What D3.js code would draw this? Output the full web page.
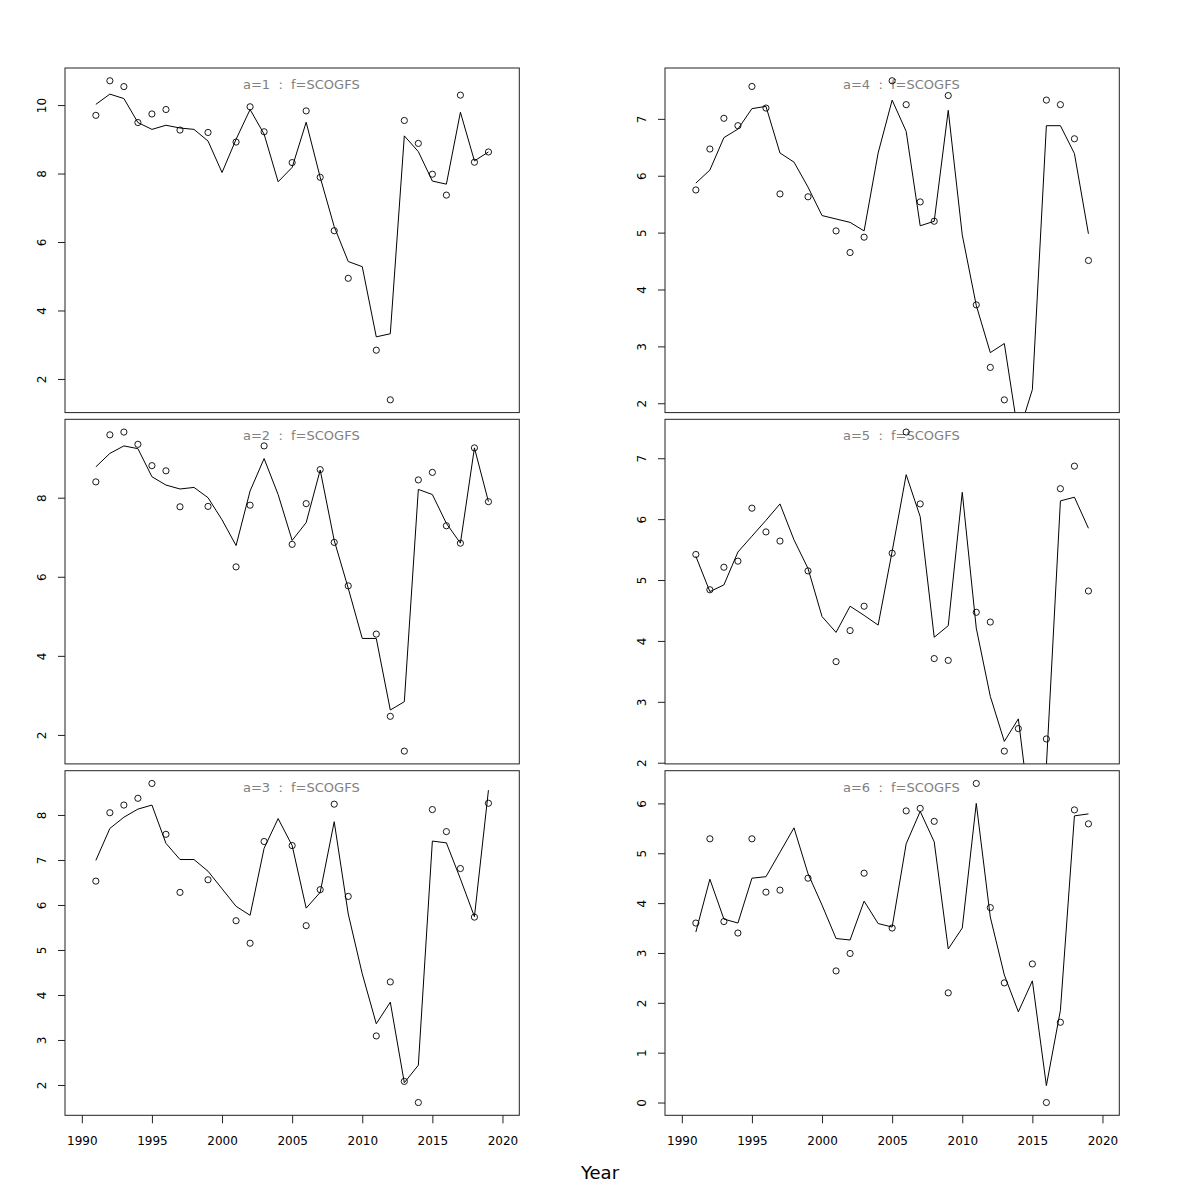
<!DOCTYPE html>
<html><head><meta charset="utf-8">
<script src="https://cdn.jsdelivr.net/npm/d3@7"></script>
<style>body{margin:0;background:#fff} svg{display:block}</style>
</head><body>
<svg id="chart" width="1200" height="1200"></svg>
<script>
const years = [1991,1992,1993,1994,1995,1996,1997,1998,1999,2000,2001,2002,2003,2004,2005,2006,2007,2008,2009,2010,2011,2012,2013,2014,2015,2016,2017,2018,2019];
const xTicks = [1990,1995,2000,2005,2010,2015,2020];
const xLimits = [1990, 2020];
const titles = ["a=1  :  f=SCOGFS","a=2  :  f=SCOGFS","a=3  :  f=SCOGFS","a=4  :  f=SCOGFS","a=5  :  f=SCOGFS","a=6  :  f=SCOGFS"];

const obs1 = [9.70,10.71,10.54,9.49,9.74,9.87,9.27,null,9.20,null,8.92,9.95,9.22,null,8.32,9.83,7.89,6.33,4.94,null,2.84,1.39,9.55,8.88,7.98,7.37,10.29,8.33,8.63];
const fit1 = [10.02,10.32,10.19,9.49,9.29,9.41,9.33,9.29,8.95,8.03,9.00,9.87,9.15,7.76,8.18,9.50,7.89,6.45,5.43,5.28,3.23,3.32,9.10,8.64,7.78,7.69,9.79,8.37,8.63];
const obs2 = [8.40,9.59,9.66,9.35,8.81,8.68,7.77,null,7.78,null,6.25,7.81,9.31,null,6.82,7.85,8.71,6.87,5.77,null,4.55,2.47,1.59,8.45,8.64,7.29,6.85,9.26,7.90];
const fit2 = [8.78,9.12,9.31,9.24,8.53,8.32,8.22,8.26,8.00,7.44,6.79,8.17,8.99,8.08,6.92,7.37,8.70,6.92,5.71,4.44,4.44,2.63,2.84,8.21,8.08,7.35,6.85,9.26,7.90];
const obs3 = [6.53,8.05,8.22,8.37,8.70,7.57,6.28,null,6.56,null,5.65,5.15,7.41,null,7.32,5.54,6.34,8.24,6.19,null,3.09,4.29,2.08,1.61,8.12,7.63,6.81,5.73,8.26];
const fit3 = [6.99,7.70,7.95,8.13,8.22,7.37,7.01,7.01,6.75,6.36,5.97,5.77,7.26,7.92,7.32,5.93,6.28,7.85,5.80,4.47,3.36,3.84,2.05,2.44,7.42,7.38,6.58,5.74,8.55];
const obs4 = [5.75,6.47,7.01,6.88,7.57,7.19,5.68,null,5.63,null,5.03,4.65,4.92,null,7.67,7.25,5.54,5.20,7.41,null,3.73,2.63,2.06,null,null,7.33,7.25,6.65,4.51];
const fit4 = [5.87,6.10,6.67,6.82,7.18,7.22,6.40,6.24,5.80,5.30,5.24,5.18,5.03,6.40,7.33,6.78,5.12,5.20,7.15,4.96,3.72,2.89,3.05,1.45,2.24,6.88,6.88,6.39,4.98];
const obs5 = [5.42,4.84,5.21,5.31,6.18,5.79,5.64,null,5.15,null,3.66,4.17,4.57,null,5.44,7.43,6.25,3.71,3.68,null,4.47,4.31,2.19,2.56,null,2.39,6.50,6.87,4.82];
const fit5 = [5.39,4.81,4.92,5.46,5.72,5.98,6.25,5.66,5.19,4.40,4.14,4.57,4.42,4.26,5.47,6.73,6.04,4.06,4.25,6.44,4.21,3.09,2.35,2.72,0.85,1.95,6.30,6.36,5.85];
const obs6 = [3.60,5.29,3.63,3.40,5.29,4.22,4.26,null,4.50,null,2.64,2.99,4.60,null,3.50,5.85,5.90,5.64,2.20,null,6.40,3.91,2.40,null,2.78,0.00,1.61,5.87,5.59];
const fit6 = [3.42,4.48,3.68,3.60,4.50,4.53,5.02,5.51,4.59,3.96,3.29,3.26,4.04,3.59,3.52,5.19,5.84,5.23,3.08,3.50,6.00,3.72,2.56,1.82,2.44,0.34,1.85,5.75,5.79];

const yTicks1 = [2,4,6,8,10];
const yTicks2 = [2,4,6,8];
const yTicks3 = [2,3,4,5,6,7,8];
const yTicks4 = [2,3,4,5,6,7];
const yTicks5 = [2,3,4,5,6,7];
const yTicks6 = [0,1,2,3,4,5,6];

const panels = [
  {obs: obs1, fit: fit1, ticks: yTicks1, col: 0, row: 0, title: titles[0]},
  {obs: obs2, fit: fit2, ticks: yTicks2, col: 0, row: 1, title: titles[1]},
  {obs: obs3, fit: fit3, ticks: yTicks3, col: 0, row: 2, title: titles[2]},
  {obs: obs4, fit: fit4, ticks: yTicks4, col: 1, row: 0, title: titles[3]},
  {obs: obs5, fit: fit5, ticks: yTicks5, col: 1, row: 1, title: titles[4]},
  {obs: obs6, fit: fit6, ticks: yTicks6, col: 1, row: 2, title: titles[5]},
];

const svg = d3.select("#chart");
const FONT = "DejaVu Sans, Liberation Sans, sans-serif";
const colLeft = [65, 665];
const rowTop = [68, 419.3, 770.7];
const W = 454.3, H = 344.6;

function padded(lo, hi) { const p = (hi - lo) * 0.04; return [lo - p, hi + p]; }

panels.forEach((p, i) => {
  const left = colLeft[p.col], top = rowTop[p.row];
  const x = d3.scaleLinear().domain(padded(xLimits[0], xLimits[1])).range([left, left + W]);
  const ext = d3.extent(p.obs.filter(v => v !== null));
  const y = d3.scaleLinear().domain(padded(ext[0], ext[1])).range([top + H, top]);

  const clipId = "clip" + i;
  svg.append("clipPath").attr("id", clipId)
    .append("rect").attr("x", left).attr("y", top).attr("width", W).attr("height", H);

  const g = svg.append("g");

  // fitted line
  const line = d3.line().x((d, j) => x(years[j])).y(d => y(d));
  g.append("path").datum(p.fit)
    .attr("clip-path", `url(#${clipId})`)
    .attr("d", line).attr("fill", "none").attr("stroke", "#000").attr("stroke-width", 1);

  // title
  g.append("text").attr("x", left + 178).attr("y", top + 21)
    .attr("fill", "#808080").attr("font-family", FONT).attr("font-size", 13)
    .style("white-space", "pre").text(p.title);

  // observed points
  const pts = years.map((yr, j) => ({yr, v: p.obs[j]})).filter(d => d.v !== null);
  g.append("g").attr("clip-path", `url(#${clipId})`).selectAll("circle").data(pts).join("circle")
    .attr("cx", d => x(d.yr)).attr("cy", d => y(d.v)).attr("r", 3.1)
    .attr("fill", "none").attr("stroke", "#000").attr("stroke-width", 0.9);

  // box
  g.append("rect").attr("x", left).attr("y", top).attr("width", W).attr("height", H)
    .attr("fill", "none").attr("stroke", "#222").attr("stroke-width", 1);

  // y axis
  const ya = g.append("g").attr("transform", `translate(${left},0)`)
    .call(d3.axisLeft(y).tickValues(p.ticks).tickSize(7).tickFormat(d3.format("d")));
  ya.select(".domain").remove();
  ya.selectAll(".tick line").attr("stroke", "#222");
  ya.selectAll("text")
    .attr("transform", "rotate(-90)")
    .attr("x", 0).attr("y", -19.5).attr("dy", null)
    .attr("text-anchor", "middle")
    .attr("font-family", FONT).attr("font-size", 12).attr("fill", "#000");

  // x axis only on bottom row
  if (p.row === 2) {
    const xa = g.append("g").attr("transform", `translate(0,${top + H})`)
      .call(d3.axisBottom(x).tickValues(xTicks).tickSize(8).tickFormat(d3.format("d")));
    xa.select(".domain").remove();
    xa.selectAll(".tick line").attr("stroke", "#222");
    xa.selectAll("text").attr("dy", null).attr("y", 30)
      .attr("font-family", FONT).attr("font-size", 12).attr("fill", "#000");
  }
});

svg.append("text").attr("x", 600).attr("y", 1179).attr("text-anchor", "middle")
  .attr("font-family", FONT).attr("font-size", 18).attr("fill", "#000").text("Year");
</script>
</body></html>
